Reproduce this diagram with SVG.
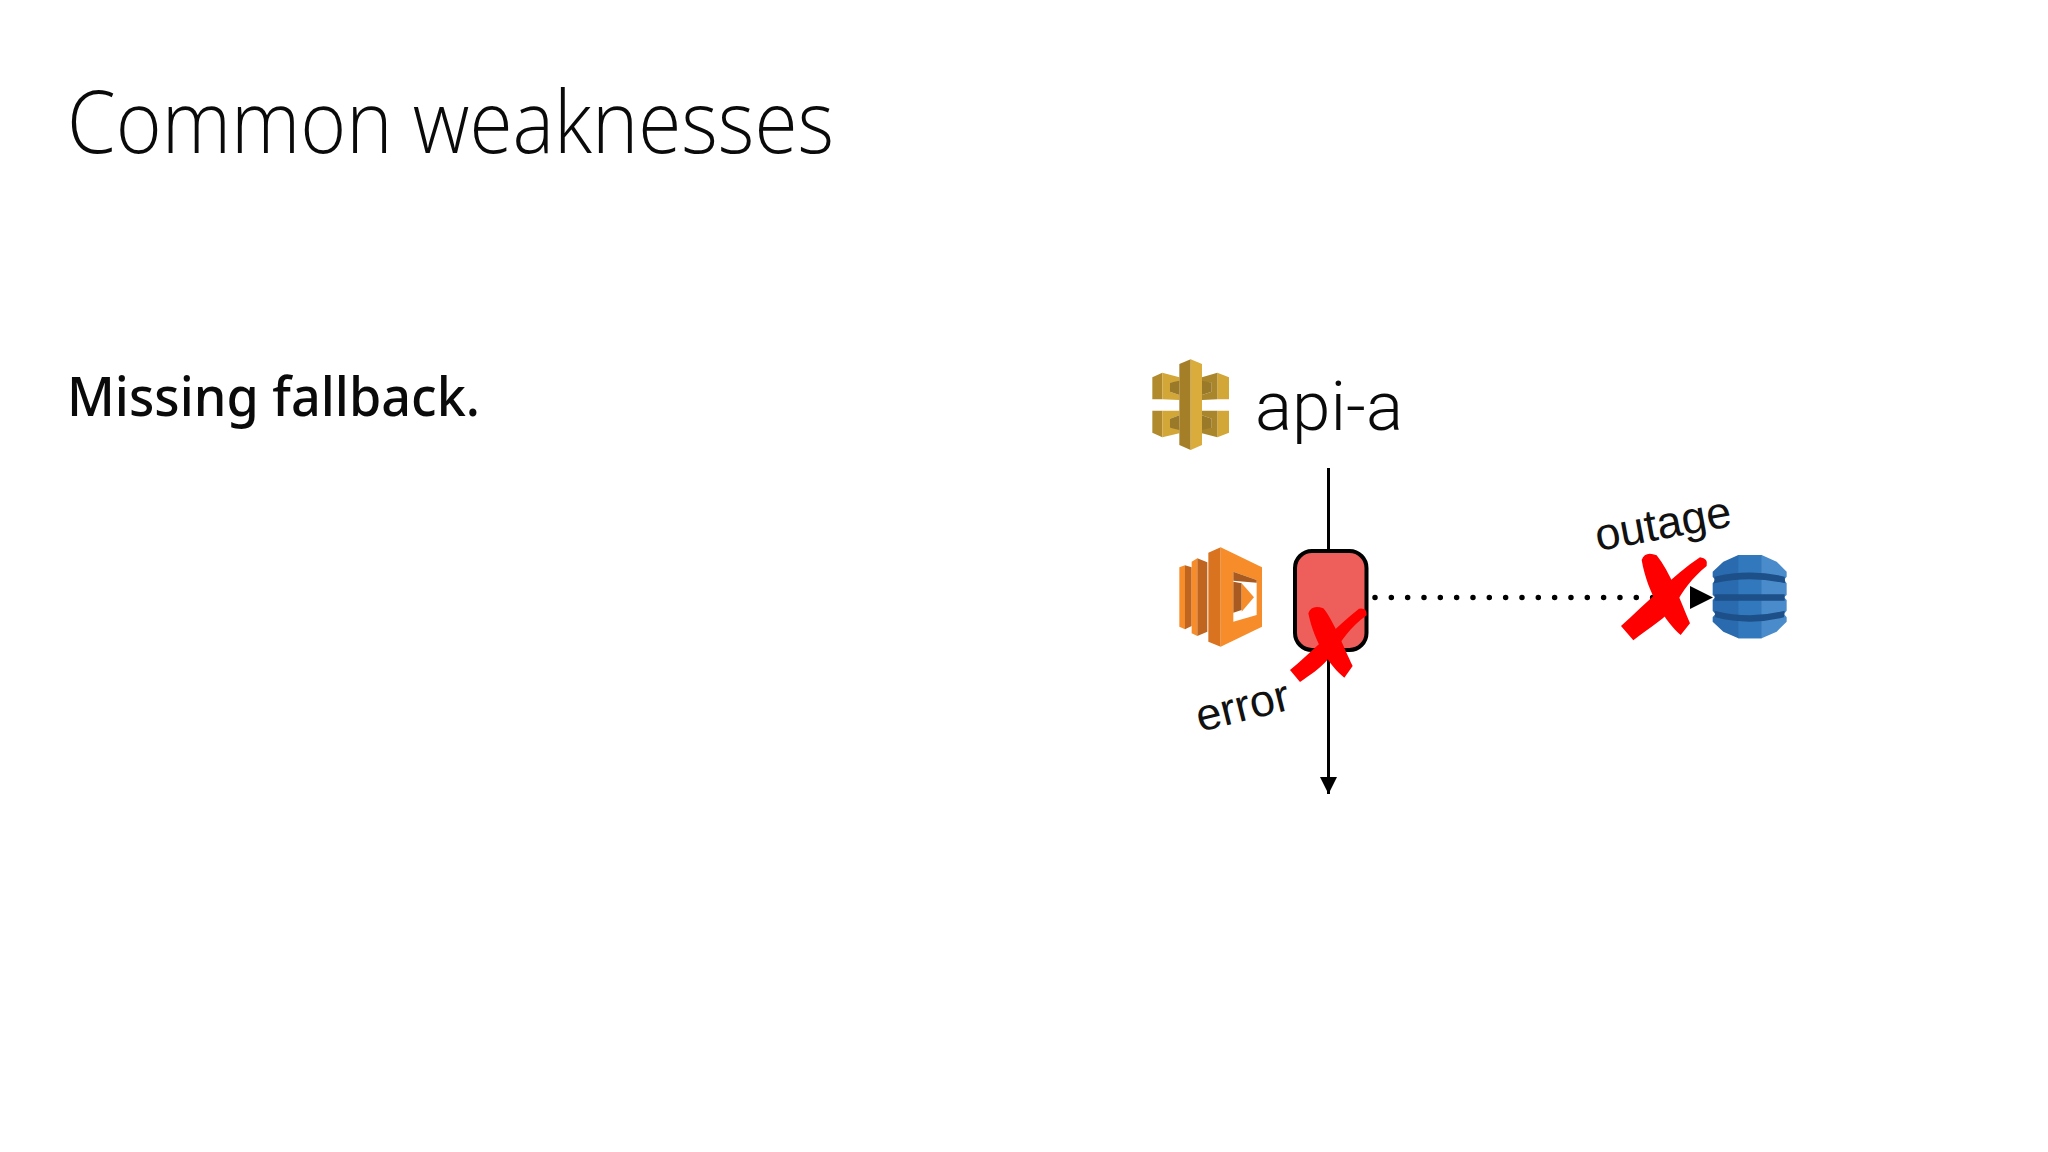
<svg xmlns="http://www.w3.org/2000/svg" width="2048" height="1152" viewBox="0 0 2048 1152">
<style>
.title{font-family:"Open Sans","Noto Sans",sans-serif;font-weight:300;font-size:86px;fill:#0a0a0a}
.sub{font-family:"Noto Sans","Open Sans",sans-serif;font-weight:500;font-size:55px;fill:#0a0a0a}
.big{font-family:Roboto,"Liberation Sans",sans-serif;font-weight:300;font-size:69px;fill:#0a0a0a}
.lbl{font-family:"Liberation Sans",Arial,sans-serif;font-size:45px;fill:#111}
.x{fill:#fe0000}
.line{stroke:#000;stroke-width:3;fill:none}
.dots{stroke:#000;stroke-width:5.5;stroke-linecap:round;stroke-dasharray:0 16.33;fill:none}
</style>
<defs>
<marker id="arrS" markerUnits="userSpaceOnUse" markerWidth="18" markerHeight="18" refX="17" refY="8.5" orient="auto"><path d="M0,0L17,8.5L0,17Z" fill="#000"/></marker>
</defs>
<rect width="2048" height="1152" fill="#fff"/>
<text id="title" class="title" x="67" y="153" textLength="767" lengthAdjust="spacingAndGlyphs">Common weaknesses</text>
<text id="subtitle" class="sub" x="67" y="416" textLength="413" lengthAdjust="spacingAndGlyphs">Missing fallback.</text>
<g id="connectors">
<line class="line" x1="1328.5" y1="468" x2="1328.5" y2="794" marker-end="url(#arrS)"/>
<line class="dots" x1="1375" y1="597.5" x2="1685" y2="597.5"/>
<path d="M1690,586L1713,597.5L1690,609Z" fill="#000"/>
</g>
<g id="api-gateway" transform="translate(1130,340) scale(.33333)">
<path fill="#b08a2c" d="M67,112L97,98V178H67Z"/>
<path fill="#d2a637" d="M97,98L148,112V128L120,128V155L148,165V180L97,178Z"/>
<path fill="#d2a637" d="M297,112L262,98V178H297Z"/>
<path fill="#a9852b" d="M262,98L216,112V128L245,128V155L216,165V180L262,178Z"/>
<path fill="#b08a2c" d="M67,212H97V292L67,278Z"/>
<path fill="#d2a637" d="M97,212H148V226L120,236V263L148,262V280L97,292Z"/>
<path fill="#d2a637" d="M297,212H262V292L297,278Z"/>
<path fill="#a9852b" d="M262,212H216V226L245,236V263L216,262V280L262,292Z"/>
<path fill="#9a7a28" d="M120,128L148,122V165L120,155ZM120,236L148,226V270L120,263ZM245,128L216,122V165L245,155ZM245,236L216,226V270L245,263Z"/>
<path fill="#a47f28" d="M148,72L182,58V330L148,315Z"/>
<path fill="#d9ac3c" d="M182,58L216,72V315L182,330Z"/>
</g>
<text id="api-a" class="big" x="1255" y="430" textLength="148" lengthAdjust="spacingAndGlyphs">api-a</text>
<g id="lambda" transform="translate(1160,530) scale(.33333)">
<path fill="#f68d2a" d="M58,112L75,106V298L58,290Z"/>
<path fill="#c0651f" d="M75,106L95,112V288L75,298Z"/>
<path fill="#f68d2a" d="M95,95L112,85V318L95,310Z"/>
<path fill="#c0651f" d="M112,85L142,97V305L112,318Z"/>
<path fill="#d9731f" d="M145,68L182,52V350L145,335Z"/>
<path fill="#f68d2a" d="M182,52L306,112V290L182,350Z"/>
<path fill="#fff" d="M220,125L290,150V255L220,275Z"/>
<path fill="#a85a20" d="M220,125L290,150V158L220,152ZM220,155L245,160V240L220,248Z"/>
<path fill="#f68d2a" d="M245,160L282,202L245,245Z"/>
</g>
<g id="function-box">
<rect x="1295" y="551" width="71.5" height="99" rx="17" fill="#ee5f5b" stroke="#000" stroke-width="4"/>
</g>
<g id="error-x" transform="translate(1160,530) scale(.33333)">
<path class="x" d="M445,250Q455,222 490,235C520,270 550,350 578,408L553,443C510,410 462,335 445,250Z"/>
<path class="x" d="M390,420C450,370 530,290 597,236Q622,232 620,256C570,290 545,335 500,392C480,415 450,435 420,456Z"/>
</g>
<text id="error" class="lbl" transform="translate(1200,732) rotate(-14)">error</text>
<g id="dynamodb" transform="translate(1560,480) scale(.33333)">
<path fill="#2a6aae" d="M458,275L490,245L535,225H605V475H535L490,455L458,425V412L466,402L458,392V360L466,352L458,345V310L466,300L458,290Z"/>
<path fill="#4a8ccb" d="M605,225L650,245L680,275V290L672,300L680,310V345L672,352L680,360V392L672,402L680,412V425L650,455L605,475Z"/>
<path fill="#3178bd" d="M535,225H605V475H535Z"/>
<path fill="#1d4f88" d="M464,290Q570,265 674,290L676,310Q570,285 462,310ZM464,343H674V362H464ZM464,392Q570,420 674,392L672,412Q570,438 466,412Z"/>
</g>
<g id="outage-x" transform="translate(1560,480) scale(.33333)">
<path class="x" d="M245,240Q255,212 290,226C330,275 360,360 390,430L362,465C320,430 262,340 245,240Z"/>
<path class="x" d="M183,438C260,370 340,285 420,232Q446,235 440,258C395,295 370,330 345,375C320,415 270,440 220,481Z"/>
</g>
<text id="outage" class="lbl" transform="translate(1598,551) rotate(-10.5)">outage</text>
</svg>
